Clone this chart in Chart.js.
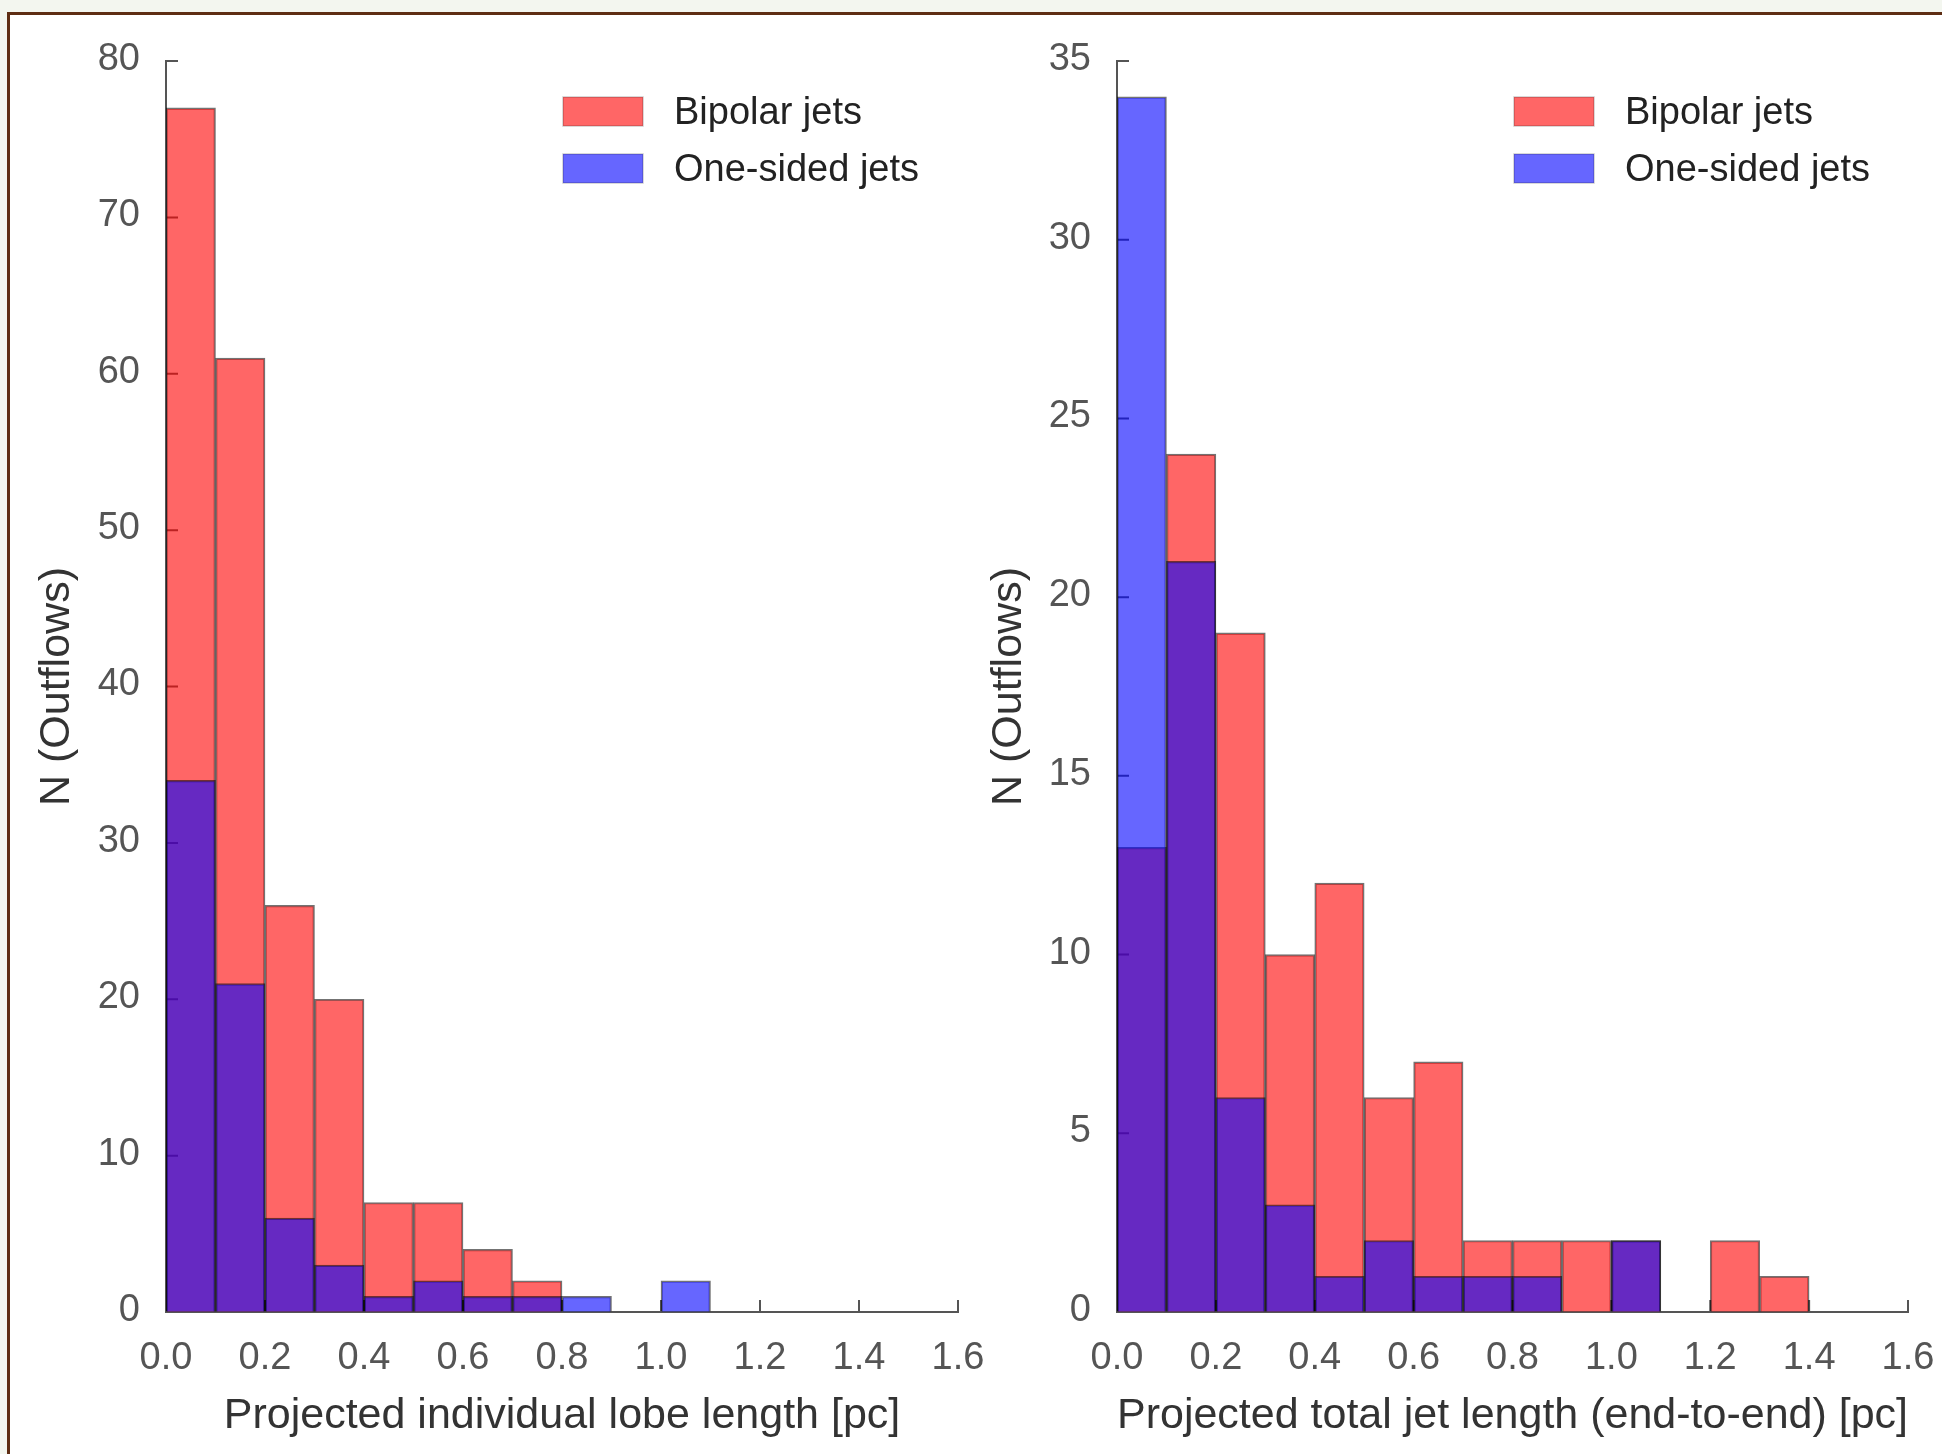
<!DOCTYPE html>
<html>
<head>
<meta charset="utf-8">
<script src="https://cdn.jsdelivr.net/npm/chart.js"></script>
<style>
  html, body { margin: 0; padding: 0; background: #f3f6ef; }
  body { width: 1942px; height: 1454px; position: relative; overflow: hidden; }
  #frame {
    position: absolute; left: 7px; top: 12px; width: 1960px; height: 1460px;
    background: #fff; border-left: 3px solid #5e2d13; border-top: 3px solid #5e2d13;
  }
  canvas { position: absolute; top: 0; }
  #lobeChart { left: 0; }
  #totalChart { left: 960px; }
</style>
</head>
<body>
<div id="frame"></div>
<canvas id="lobeChart" width="1012" height="1454"></canvas>
<canvas id="totalChart" width="1002" height="1454"></canvas>
<script>
// histogram bins, 0.1 pc wide
const binStarts = [0.0, 0.1, 0.2, 0.3, 0.4, 0.5, 0.6, 0.7, 0.8, 0.9, 1.0, 1.1, 1.2, 1.3, 1.4, 1.5];
const binWidth = 0.1;

// left panel: individual lobe length
const lobeBipolar  = [77, 61, 26, 20, 7, 7, 4, 2, 0, 0, 0, 0, 0, 0, 0, 0];
const lobeOneSided = [34, 21, 6, 3, 1, 2, 1, 1, 1, 0, 2, 0, 0, 0, 0, 0];

// right panel: total (end-to-end) jet length
const totalBipolar  = [13, 24, 19, 10, 12, 6, 7, 2, 2, 2, 2, 0, 2, 1, 0, 0];
const totalOneSided = [34, 21, 6, 3, 1, 2, 1, 1, 1, 0, 2, 0, 0, 0, 0, 0];

const seriesNames = ['Bipolar jets', 'One-sided jets'];
const xTitles = ['Projected individual lobe length [pc]', 'Projected total jet length (end-to-end) [pc]'];
const yTitle = 'N (Outflows)';
const yMaxes = [80, 35];
const ySteps = [10, 5];
const xMax = 1.6;
const xStep = 0.2;

const FONT = '"Liberation Sans", Arial, sans-serif';
Chart.defaults.font.family = FONT;

const RED = 'rgba(255, 0, 0, 0.6)';
const BLUE = 'rgba(0, 0, 255, 0.6)';

// matplotlib style inward tick marks
const inwardTicks = {
    id: 'inwardTicks',
    beforeDatasetsDraw(chart) {
        const { ctx, chartArea, scales: { x, y } } = chart;
        ctx.save();
        ctx.strokeStyle = '#555';
        ctx.lineWidth = 2;
        ctx.beginPath();
        x.ticks.forEach(t => {
            const px = x.getPixelForValue(t.value);
            ctx.moveTo(px, chartArea.bottom);
            ctx.lineTo(px, chartArea.bottom - 12);
        });
        y.ticks.forEach(t => {
            const py = y.getPixelForValue(t.value);
            ctx.moveTo(chartArea.left, py);
            ctx.lineTo(chartArea.left + 12, py);
        });
        ctx.stroke();
        ctx.restore();
    }
};

// legend box in the upper right of the plot
const boxLegend = {
    id: 'boxLegend',
    afterDraw(chart) {
        const { ctx, chartArea } = chart;
        const x0 = chartArea.left + 397;
        let y0 = chartArea.top + 36;
        ctx.save();
        ctx.font = '38px ' + FONT;
        ctx.textBaseline = 'middle';
        chart.data.datasets.forEach(ds => {
            ctx.fillStyle = ds.backgroundColor;
            ctx.fillRect(x0, y0, 80, 29);
            ctx.strokeStyle = 'rgba(0,0,0,0.2)';
            ctx.lineWidth = 1.5;
            ctx.strokeRect(x0, y0, 80, 29);
            ctx.fillStyle = '#222';
            ctx.fillText(ds.label, x0 + 111, y0 + 17);
            y0 += 57;
        });
        ctx.restore();
    }
};

function toPoints(values) {
    return binStarts.map((s, i) => ({ x: s + binWidth / 2, y: values[i] || null }));
}

function makeHist(canvasId, bipolar, oneSided, idx, yWidth, yTitlePad, padRight) {
    return new Chart(document.getElementById(canvasId).getContext('2d'), {
        type: 'bar',
        data: {
            datasets: [
                {
                    label: seriesNames[0],
                    data: toPoints(bipolar),
                    backgroundColor: RED,
                    borderColor: 'rgba(0,0,0,0.55)',
                    borderWidth: 1.5,
                    grouped: false,
                    order: 2,
                    barPercentage: 1,
                    categoryPercentage: 1
                },
                {
                    label: seriesNames[1],
                    data: toPoints(oneSided),
                    backgroundColor: BLUE,
                    borderColor: 'rgba(0,0,0,0.55)',
                    borderWidth: 1.5,
                    grouped: false,
                    order: 1,
                    barPercentage: 1,
                    categoryPercentage: 1
                }
            ]
        },
        options: {
            responsive: false,
            animation: false,
            layout: { padding: { top: 61, right: padRight, bottom: 0, left: 0 } },
            plugins: { legend: { display: false }, tooltip: { enabled: false } },
            scales: {
                x: {
                    type: 'linear',
                    min: 0,
                    max: xMax,
                    offset: false,
                    z: 1,
                    grid: { offset: false, drawOnChartArea: false, drawTicks: false },
                    border: { color: '#555', width: 2 },
                    ticks: {
                        stepSize: xStep,
                        autoSkip: false,
                        maxRotation: 0,
                        color: '#555',
                        font: { size: 38 },
                        padding: 24,
                        callback: v => Number(v).toFixed(1)
                    },
                    title: {
                        display: true,
                        text: xTitles[idx],
                        color: '#333',
                        font: { size: 43 },
                        padding: { top: 0, bottom: 12 }
                    },
                    afterFit: s => { s.height = 142; }
                },
                y: {
                    min: 0,
                    max: yMaxes[idx],
                    z: 1,
                    grid: { drawOnChartArea: false, drawTicks: false },
                    border: { color: '#555', width: 2 },
                    ticks: {
                        stepSize: ySteps[idx],
                        color: '#555',
                        font: { size: 38 },
                        padding: 26,
                        labelOffset: -1.5
                    },
                    title: {
                        display: true,
                        text: yTitle,
                        color: '#333',
                        font: { size: 43 },
                        padding: { top: yTitlePad, bottom: 0 }
                    },
                    afterFit: s => { s.width = yWidth; }
                }
            }
        },
        plugins: [inwardTicks, boxLegend]
    });
}

makeHist('lobeChart', lobeBipolar, lobeOneSided, 0, 166, 31, 54);
makeHist('totalChart', totalBipolar, totalOneSided, 1, 157, 23, 54);
</script>
</body>
</html>
